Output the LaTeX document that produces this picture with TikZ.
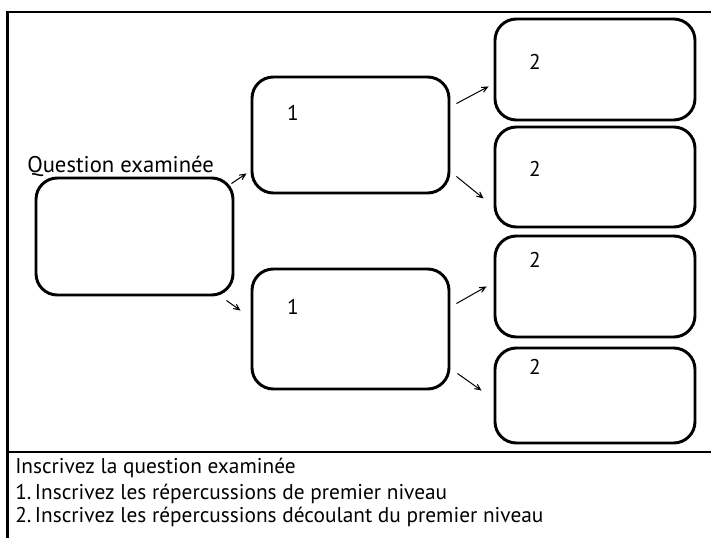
\documentclass[tikz,border=0pt]{standalone}
\usepackage{fontspec}
\setmainfont{PT Sans}
\usetikzlibrary{arrows.meta,calc}
\tikzset{
  box/.style={draw, line width=2.2pt, rounded corners=16pt, inner sep=0pt},
  qbox/.style={box, minimum width=147.75pt, minimum height=87.75pt},
  mbox/.style={box, minimum width=147.75pt},
  rbox/.style={box, minimum width=150pt},
  frame/.style={line width=2pt, line cap=rect},
  conn/.style={line width=0.75pt, -{Stealth[length=10pt,width=9pt,inset=7.5pt]}},
  lbl/.style={font=\fontsize{16pt}{19pt}\selectfont, inner sep=0pt},
  qlbl/.style={font=\fontsize{17pt}{20pt}\selectfont, inner sep=0pt},
}
\begin{document}
\begin{tikzpicture}[x=0.75pt,y=-0.75pt]
\useasboundingbox (0,0) rectangle (711,538);
% frame
\coordinate (fTL) at (7.5,12);
\coordinate (fTR) at (712,12);
\coordinate (fBL) at (7.5,540);
\coordinate (dL) at (7.5,452);
\coordinate (dR) at (712,452);
\draw[frame] (fTR) -- (fTL) -- (fBL);
\draw[frame] (dL) -- (dR);
% boxes
\node[qbox] (q) at (134.5,236.5) {};
\node[mbox, minimum height=87pt] (m1) at (350.5,135) {};
\node[mbox, minimum height=90pt] (m2) at (350.5,329) {};
\node[rbox, minimum height=75.75pt] (r1) at (595,69.5) {};
\node[rbox, minimum height=75pt] (r2) at (595,177) {};
\node[rbox, minimum height=75.75pt] (r3) at (595,286.5) {};
\node[rbox, minimum height=71.25pt] (r4) at (595,395.5) {};
% labels
\node[qlbl, anchor=base west] (tq) at (27,173) {Question examinée};
\node[lbl] (t1a) at (293,113) {1};
\node[lbl] (t1b) at (293,307) {1};
\node[lbl] (t2a) at (535,62) {2};
\node[lbl] (t2b) at (535,169) {2};
\node[lbl] (t2c) at (535,260) {2};
\node[lbl] (t2d) at (535,367) {2};
% connectors
\draw[conn] ($(q.north east)+(-3,7)$) -- ($(m1.south west)+(-4,-21)$);
\draw[conn] ($(q.south east)+(-8,4)$) -- ($(m2.north west)+(-10,43)$);
\draw[conn] ($(m1.north east)+(6,28)$) -- ($(r1.south west)+(-5,-35)$);
\draw[conn] ($(m1.south east)+(6,-18)$) -- ($(r2.south west)+(-10,-30)$);
\draw[conn] ($(m2.north east)+(6,36)$) -- ($(r3.south west)+(-7,-52)$);
\draw[conn] ($(m2.south east)+(7,-17)$) -- ($(r4.north west)+(-12,44)$);
% legend
\node[lbl, anchor=base west] (l1) at (15,474) {Inscrivez la question examinée};
\node[lbl, anchor=base west] (l2) at (15,499) {1.\,Inscrivez les répercussions de premier niveau};
\node[lbl, anchor=base west] (l3) at (15,522) {2.\,Inscrivez les répercussions découlant du premier niveau};
\end{tikzpicture}
\end{document}
